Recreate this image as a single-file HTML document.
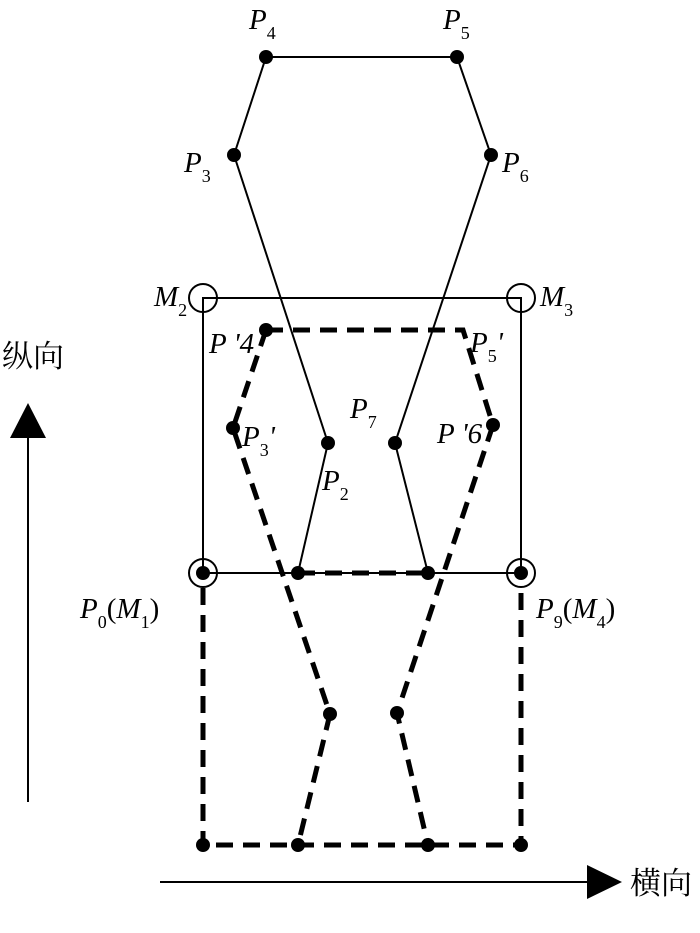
<!DOCTYPE html>
<html><head><meta charset="utf-8"><style>html,body{margin:0;padding:0;background:#fff}</style></head>
<body>
<svg width="700" height="928" xmlns="http://www.w3.org/2000/svg" font-family="Liberation Serif, serif">
<g stroke="#000" fill="none" stroke-width="2">
<polyline points="298,573 328,443 234,155 266,57 457,57 491,155 395,443 428,573"/>
<rect x="203" y="298" width="318" height="275"/>
<circle cx="203" cy="298" r="14"/><circle cx="521" cy="298" r="14"/>
<circle cx="203" cy="573" r="14"/><circle cx="521" cy="573" r="14"/>
</g>
<g stroke="#000" fill="none" stroke-width="5" stroke-dasharray="17,10">
<polyline points="266,330 463,330 493,425 397,713 428,845"/>
<polyline points="266,330 233,428 330,714 298,845"/>
<line x1="298" y1="573" x2="428" y2="573"/>
<polyline points="203,588 203,845 521,845 521,588"/>
</g>
<g fill="#000">
<circle cx="266" cy="57" r="7"/><circle cx="457" cy="57" r="7"/>
<circle cx="234" cy="155" r="7"/><circle cx="491" cy="155" r="7"/>
<circle cx="328" cy="443" r="7"/><circle cx="395" cy="443" r="7"/>
<circle cx="298" cy="573" r="7"/><circle cx="428" cy="573" r="7"/>
<circle cx="203" cy="573" r="7"/><circle cx="521" cy="573" r="7"/>
<circle cx="266" cy="330" r="7"/><circle cx="233" cy="428" r="7"/><circle cx="493" cy="425" r="7"/>
<circle cx="330" cy="714" r="7"/><circle cx="397" cy="713" r="7"/>
<circle cx="203" cy="845" r="7"/><circle cx="298" cy="845" r="7"/><circle cx="428" cy="845" r="7"/><circle cx="521" cy="845" r="7"/>
<polygon points="28,403 10,438 46,438"/>
<polygon points="622,882 587,865 587,899"/>
</g>
<line x1="28" y1="436" x2="28" y2="802" stroke="#000" stroke-width="2"/>
<line x1="160" y1="882" x2="590" y2="882" stroke="#000" stroke-width="2"/>
<g font-size="29" font-style="italic">
<text x="249" y="29">P<tspan font-size="18" font-style="normal" dy="10">4</tspan></text>
<text x="443" y="29">P<tspan font-size="18" font-style="normal" dy="10">5</tspan></text>
<text x="184" y="172">P<tspan font-size="18" font-style="normal" dy="10">3</tspan></text>
<text x="502" y="172">P<tspan font-size="18" font-style="normal" dy="10">6</tspan></text>
<text x="154" y="306">M<tspan font-size="18" font-style="normal" dy="10">2</tspan></text>
<text x="540" y="306">M<tspan font-size="18" font-style="normal" dy="10">3</tspan></text>
<text x="209" y="353">P '4</text>
<text x="470" y="352">P<tspan font-size="18" font-style="normal" dy="10">5</tspan><tspan dy="-10">'</tspan></text>
<text x="242" y="446">P<tspan font-size="18" font-style="normal" dy="10">3</tspan><tspan dy="-10">'</tspan></text>
<text x="350" y="418">P<tspan font-size="18" font-style="normal" dy="10">7</tspan></text>
<text x="437" y="443">P '6</text>
<text x="322" y="490">P<tspan font-size="18" font-style="normal" dy="10">2</tspan></text>
<text x="80" y="618">P<tspan font-size="18" font-style="normal" dy="10">0</tspan><tspan font-style="normal" dy="-10">(</tspan>M<tspan font-size="18" font-style="normal" dy="10">1</tspan><tspan font-style="normal" dy="-10">)</tspan></text>
<text x="536" y="618">P<tspan font-size="18" font-style="normal" dy="10">9</tspan><tspan font-style="normal" dy="-10">(</tspan>M<tspan font-size="18" font-style="normal" dy="10">4</tspan><tspan font-style="normal" dy="-10">)</tspan></text>
</g>
<g font-family="Liberation Serif, Noto Serif CJK SC, serif" font-size="31">
<text x="2" y="367">纵向</text>
<text x="630" y="894">横向</text>
</g>
</svg>
</body></html>
